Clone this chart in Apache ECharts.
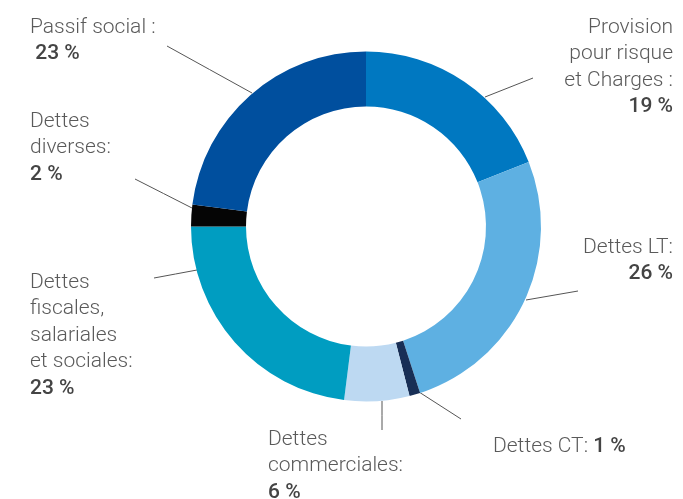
<!DOCTYPE html>
<html>
<head>
<meta charset="utf-8">
<script src="https://cdn.jsdelivr.net/npm/echarts@6/dist/echarts.min.js"></script>
<style>
  html, body { margin: 0; padding: 0; background: #fff; }
  #chart { width: 683px; height: 499px; }
</style>
</head>
<body>
<div id="chart"></div>
<script>
// slices, clockwise from 12 o'clock
const categories = [
  'Provision\npour risque\net Charges :',
  'Dettes LT:',
  'Dettes CT: ',
  'Dettes\ncommerciales:',
  'Dettes\nfiscales,\nsalariales\net sociales:',
  'Dettes\ndiverses:',
  'Passif social :'
];
const values = [19, 26, 1, 6, 23, 2, 23];
const valueLabels = ['19 %', '26 %', '1 %', '6 %', '23 %', '2 %', ' 23 %'];
const colors = ['#0078c1', '#5eb0e2', '#182f56', '#bdd9f2', '#009dc1', '#050505', '#004f9e'];

// label placement: anchor, alignment, leader line start/end
const labelPos = [
  { x: 673, y: 14, align: 'right', line: [[485, 97], [533, 78]] },
  { x: 673, y: 234, align: 'right', line: [[526, 300], [578, 291]] },
  { x: 493, y: 433, align: 'left', line: [[419, 392], [461, 419]] },
  { x: 268, y: 426, align: 'left', line: [[382, 401], [382, 430]] },
  { x: 30, y: 269, align: 'left', line: [[197, 270], [154, 278]] },
  { x: 30, y: 108, align: 'left', line: [[192, 208], [135, 179]] },
  { x: 30, y: 14, align: 'left', line: [[252, 93], [167, 46]] }
];

const chart = echarts.init(document.getElementById('chart'));

const data = values.map((v, i) => ({
  name: categories[i],
  value: v,
  itemStyle: { color: colors[i] },
  label: {
    formatter: i === 2
      ? '{n|' + categories[i] + '}{p|' + valueLabels[i] + '}'
      : '{n|' + categories[i] + '}\n{p|' + valueLabels[i] + '}'
  }
}));

chart.setOption({
  animation: false,
  series: [{
    type: 'pie',
    center: [366, 226.5],
    radius: [120, 175],
    startAngle: 90,
    clockwise: true,
    avoidLabelOverlap: false,
    data: data,
    label: {
      show: true,
      position: 'outside',
      rich: {
        n: { fontFamily: 'Roboto', fontWeight: 300, fontSize: 21, color: '#5a5a5a', lineHeight: 26.5 },
        p: { fontFamily: 'Roboto', fontWeight: 500, fontSize: 21, color: '#444', lineHeight: 26.5 }
      }
    },
    labelLine: {
      show: true,
      lineStyle: { color: '#555', width: 1 }
    },
    emphasis: { disabled: true },
    labelLayout: function (params) {
      const p = labelPos[params.dataIndex];
      const a = p.line[0], b = p.line[1];
      return {
        x: p.x,
        y: p.y,
        align: p.align,
        verticalAlign: 'top',
        labelLinePoints: [a, [(a[0] + b[0]) / 2, (a[1] + b[1]) / 2], b]
      };
    }
  }]
});
</script>
</body>
</html>
